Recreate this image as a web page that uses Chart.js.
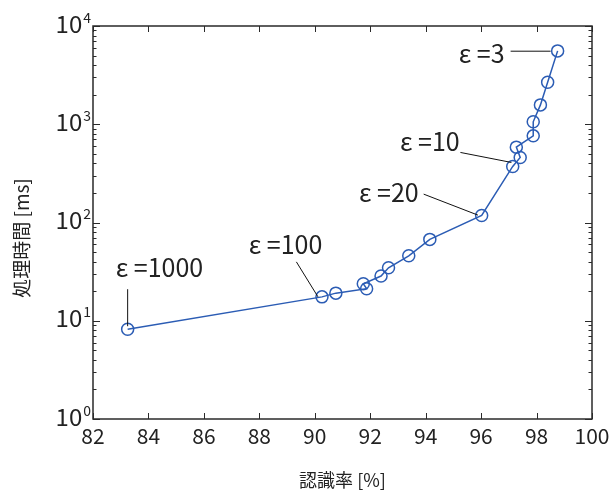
<!DOCTYPE html>
<html>
<head>
<meta charset="utf-8">
<script src="https://cdn.jsdelivr.net/npm/chart.js@4/dist/chart.umd.min.js"></script>
<style>
  body { margin: 0; background: #fff; }
</style>
</head>
<body>
<canvas id="myChart" width="616" height="492"></canvas>
<script>
// recognition rate [%] vs processing time [ms]
const recognition = [83.25, 90.26, 90.76, 91.87, 91.75, 92.39, 92.66, 93.39, 94.15, 96.02, 97.14, 97.41, 97.27, 97.88, 97.88, 98.14, 98.40, 98.76];
const procTime = [8.2, 17.5, 19.1, 21.2, 23.8, 28.5, 34.6, 45.8, 67.3, 118, 372, 459, 585, 762, 1059, 1574, 2680, 5580];

const xTicks = [82, 84, 86, 88, 90, 92, 94, 96, 98, 100];
const yExponents = [0, 1, 2, 3, 4];

// epsilon labels and which point they belong to
const epsLabels = ['3', '10', '20', '100', '1000'];
const epsPointIndex = [17, 10, 9, 1, 0];

const FONT = '"Noto Sans CJK JP", "Noto Sans", sans-serif';
const BLUE = '#2b5cb4';

// pixel offsets of the label text / leader line relative to its point
const labelLayout = {
    '3':    { align: 'right', tx: -53, ty: 12.6, l1: [-47, 0.3], l2: [-7, 0.3] },
    '10':   { align: 'right', tx: -53, ty: -15.6, l1: [-52.3, -14], l2: [-1.3, -4] },
    '20':   { align: 'right', tx: -63, ty: -13, l1: [-58, -21.3], l2: [-3.7, -0.3] },
    '100':  { align: 'left', tx: -73.3, ty: -42.7, l1: [-25.6, -35], l2: [-4, 0] },
    '1000': { align: 'left', tx: -12, ty: -52.6, l1: [0, -40], l2: [0, -3] }
};

const boxPlugin = {
    id: 'boxPlugin',
    afterDraw(chart) {
        const ctx = chart.ctx;
        const a = chart.chartArea;
        const xs = chart.scales.x;
        const ys = chart.scales.y;
        ctx.save();

        // frame
        ctx.strokeStyle = '#2a2a2a';
        ctx.lineWidth = 1.5;
        ctx.strokeRect(a.left, a.top, a.right - a.left, a.bottom - a.top);

        // x ticks (inward, top and bottom)
        ctx.lineWidth = 1;
        ctx.beginPath();
        xTicks.forEach(v => {
            const px = Math.round(xs.getPixelForValue(v)) + 0.5;
            ctx.moveTo(px, a.bottom); ctx.lineTo(px, a.bottom - 6);
            ctx.moveTo(px, a.top); ctx.lineTo(px, a.top + 6);
        });
        // y ticks, major and minor
        for (let d = 0; d <= 4; d++) {
            for (let k = 1; k <= 9; k++) {
                const v = k * Math.pow(10, d);
                if (v > 10000) break;
                const py = Math.round(ys.getPixelForValue(v)) + 0.5;
                const len = k === 1 ? 7 : 3.5;
                ctx.moveTo(a.left, py); ctx.lineTo(a.left + len, py);
                ctx.moveTo(a.right, py); ctx.lineTo(a.right - len, py);
            }
        }
        ctx.stroke();

        // y tick labels 10^n
        ctx.fillStyle = '#222';
        ctx.textAlign = 'right';
        ctx.textBaseline = 'alphabetic';
        yExponents.forEach(e => {
            const py = ys.getPixelForValue(Math.pow(10, e));
            ctx.font = '14px ' + FONT;
            const ew = ctx.measureText(String(e)).width;
            ctx.fillText(String(e), 91, py - 3.5);
            ctx.font = '24px ' + FONT;
            ctx.fillText('10', 91 - ew - 1, py + 6.7);
        });

        // y axis title
        ctx.save();
        ctx.translate(21.5, 238);
        ctx.rotate(-Math.PI / 2);
        ctx.textAlign = 'center';
        ctx.textBaseline = 'middle';
        ctx.font = '19px ' + FONT;
        ctx.fillText('処理時間 [ms]', 0, 0);
        ctx.restore();

        // epsilon annotations
        epsLabels.forEach((lab, i) => {
            const idx = epsPointIndex[i];
            const px = xs.getPixelForValue(recognition[idx]);
            const py = ys.getPixelForValue(procTime[idx]);
            const L = labelLayout[lab];
            ctx.strokeStyle = '#111';
            ctx.lineWidth = 1;
            ctx.beginPath();
            ctx.moveTo(px + L.l1[0], py + L.l1[1]);
            ctx.lineTo(px + L.l2[0], py + L.l2[1]);
            ctx.stroke();
            ctx.font = '25px ' + FONT;
            ctx.textAlign = L.align;
            ctx.textBaseline = 'alphabetic';
            ctx.fillStyle = '#222';
            ctx.fillText('ε =' + lab, px + L.tx, py + L.ty);
        });

        ctx.restore();
    }
};

const ctx = document.getElementById('myChart').getContext('2d');
const myChart = new Chart(ctx, {
    type: 'scatter',
    data: {
        datasets: [{
            data: recognition.map((x, i) => ({ x: x, y: procTime[i] })),
            showLine: true,
            borderColor: BLUE,
            borderWidth: 1.5,
            pointRadius: 6,
            pointBorderWidth: 1.5,
            pointBorderColor: BLUE,
            pointBackgroundColor: 'rgba(0,0,0,0)',
            tension: 0
        }]
    },
    options: {
        responsive: false,
        animation: false,
        layout: { padding: { left: 0, right: 24, top: 26, bottom: 0 } },
        plugins: {
            legend: { display: false },
            tooltip: { enabled: false }
        },
        scales: {
            x: {
                type: 'linear',
                min: 82,
                max: 100,
                grid: { display: false, drawTicks: false },
                border: { display: false },
                ticks: {
                    stepSize: 2,
                    padding: 4,
                    color: '#222',
                    font: { family: FONT, size: 21 }
                },
                title: {
                    display: true,
                    text: '認識率 [%]',
                    color: '#222',
                    font: { family: FONT, size: 18 },
                    padding: { top: 0, bottom: 1 }
                },
                afterFit(scale) { scale.height = 73; }
            },
            y: {
                type: 'logarithmic',
                min: 1,
                max: 10000,
                grid: { display: false, drawTicks: false },
                border: { display: false },
                ticks: { display: false },
                afterFit(scale) { scale.width = 93; }
            }
        }
    },
    plugins: [boxPlugin]
});
</script>
</body>
</html>
